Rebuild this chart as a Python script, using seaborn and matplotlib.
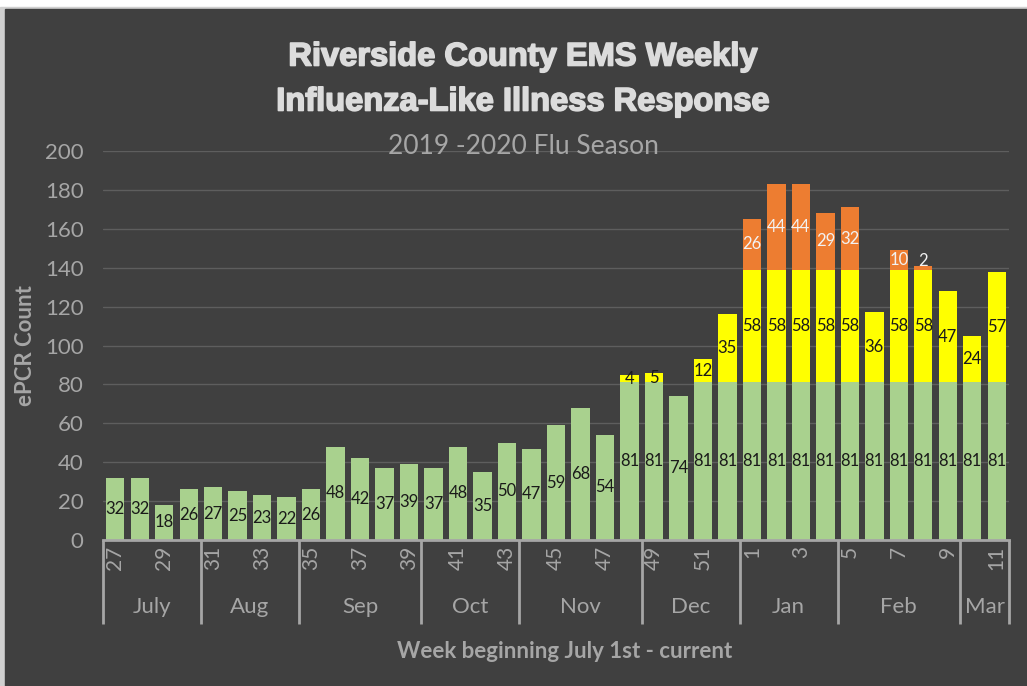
import pandas as pd
import matplotlib.pyplot as plt
import matplotlib.patches as mpatches
import matplotlib.patheffects as pe
import seaborn as sns

# Data
weeks = [str(w) for w in list(range(27, 53)) + list(range(1, 12))]
green = [32, 32, 18, 26, 27, 25, 23, 22, 26, 48, 42, 37, 39, 37, 48, 35, 50,
         47, 59, 68, 54, 81, 81, 74, 81, 81, 81, 81, 81, 81, 81, 81, 81, 81,
         81, 81, 81]
yellow = [0] * 21 + [4, 5, 0, 12, 35, 58, 58, 58, 58, 58, 36, 58, 58, 47, 24, 57]
orange = [0] * 26 + [26, 44, 44, 29, 32, 0, 10, 2, 0, 0, 0]
months = ["July", "Aug", "Sep", "Oct", "Nov", "Dec", "Jan", "Feb", "Mar"]
month_sizes = [4, 4, 5, 4, 5, 4, 4, 5, 2]

df = pd.DataFrame({"week": weeks, "green": green, "yellow": yellow, "orange": orange})
df["mid"] = df["green"] + df["yellow"]
df["total"] = df["mid"] + df["orange"]

BG = "#404040"
GRAY = "#a6a6a6"
C_GREEN = "#a9d18e"
C_YELLOW = "#ffff00"
C_ORANGE = "#ed7d31"

sns.set_style("dark")
plt.rcParams["font.family"] = ["Lato", "DejaVu Sans"]

fig = plt.figure(figsize=(10.27, 6.86), dpi=100, facecolor="white")
# light frame around the dark chart area
fig.patches.append(mpatches.Rectangle((0, 0), 1, 1 - 7 / 686, transform=fig.transFigure,
                                      color="#d0d0d0", zorder=-2))
fig.patches.append(mpatches.Rectangle((5 / 1027, 0), 1, 1 - 9 / 686, transform=fig.transFigure,
                                      color=BG, zorder=-1))

ax = fig.add_axes([103 / 1027, 1 - 540 / 686, 906 / 1027, 389 / 686])
ax.set_facecolor(BG)

# stacked bars drawn back to front
bar_kw = dict(data=df, order=weeks, width=0.75, saturation=1, errorbar=None, ax=ax,
              linewidth=0)
sns.barplot(x="week", y="total", color=C_ORANGE, zorder=2, **bar_kw)
sns.barplot(x="week", y="mid", color=C_YELLOW, zorder=3, **bar_kw)
sns.barplot(x="week", y="green", color=C_GREEN, zorder=4, **bar_kw)


def seg_y(base, val):
    # tiny segments get their label just above the bar, as in the original
    return base + val + 2.5 if val < 4 else base + val / 2


# value labels in the middle of each segment
for i, row in df.iterrows():
    ax.text(i, row["green"] / 2, str(row["green"]), ha="center", va="center",
            fontsize=12, color="#1a1a1a", zorder=5)
    if row["yellow"] > 0:
        ax.text(i, row["green"] + row["yellow"] / 2, str(row["yellow"]), ha="center",
                va="center", fontsize=12, color="#1a1a1a", zorder=5)
    if row["orange"] > 0:
        ax.text(i, seg_y(row["mid"], row["orange"]), str(row["orange"]), ha="center",
                va="center", fontsize=12, color="#f2f2f2", zorder=5)

ax.set_ylim(0, 200)
ax.set_xlim(-0.5, len(weeks) - 0.5)
ax.set_yticks(range(0, 201, 20))
ax.grid(axis="y", color="#5e5e5e", linewidth=1)
ax.grid(axis="x", visible=False)
ax.set_axisbelow(True)
for side in ["top", "right", "left"]:
    ax.spines[side].set_visible(False)
ax.spines["bottom"].set_color(GRAY)
ax.spines["bottom"].set_linewidth(2)
ax.spines["bottom"].set_zorder(6)

ax.tick_params(axis="y", length=0, pad=14, labelsize=16, labelcolor=GRAY)
ax.set_xticks(range(len(weeks)))
ax.set_xticklabels([w if int(w) % 2 == 1 else "" for w in weeks], rotation=90,
                   fontsize=15, color=GRAY)
ax.tick_params(axis="x", direction="in", length=5, width=1, color=GRAY, pad=4)
ax.set_xlabel("")
ax.set_ylabel("")

# month groups under the week labels
trans = ax.get_xaxis_transform()
start = 0
edges = [-0.5]
for name, n in zip(months, month_sizes):
    ax.text(start + (n - 1) / 2, -0.172, name, transform=trans, ha="center",
            va="center", fontsize=16, color=GRAY)
    start += n
    edges.append(start - 0.5)
for e in edges:
    ax.plot([e, e], [0, -0.216], transform=trans, color=GRAY, linewidth=2,
            clip_on=False, solid_capstyle="butt")

# titles and axis labels
heavy = [pe.withStroke(linewidth=1.2, foreground="#dcdcdc")]
fig.text(0.509, 1 - 57 / 686, "Riverside County EMS Weekly", ha="center", va="center",
         fontsize=23.5, fontweight="bold", color="#dcdcdc", family="Liberation Sans",
         path_effects=heavy)
fig.text(0.509, 1 - 102 / 686, "Influenza-Like Illness Response", ha="center", va="center",
         fontsize=23.5, fontweight="bold", color="#dcdcdc", family="Liberation Sans",
         path_effects=heavy)
fig.text(0.51, 1 - 146 / 686, "2019 -2020 Flu Season", ha="center", va="center",
         fontsize=19, color=GRAY)
fig.text(0.025, 1 - 346 / 686, "ePCR Count", rotation=90, ha="center", va="center",
         fontsize=16, fontweight="bold", color=GRAY)
fig.text(0.55, 1 - 652 / 686, "Week beginning July 1st - current", ha="center", va="center",
         fontsize=16, fontweight="bold", color=GRAY)

fig.savefig("out.png", dpi=100, facecolor=fig.get_facecolor())
